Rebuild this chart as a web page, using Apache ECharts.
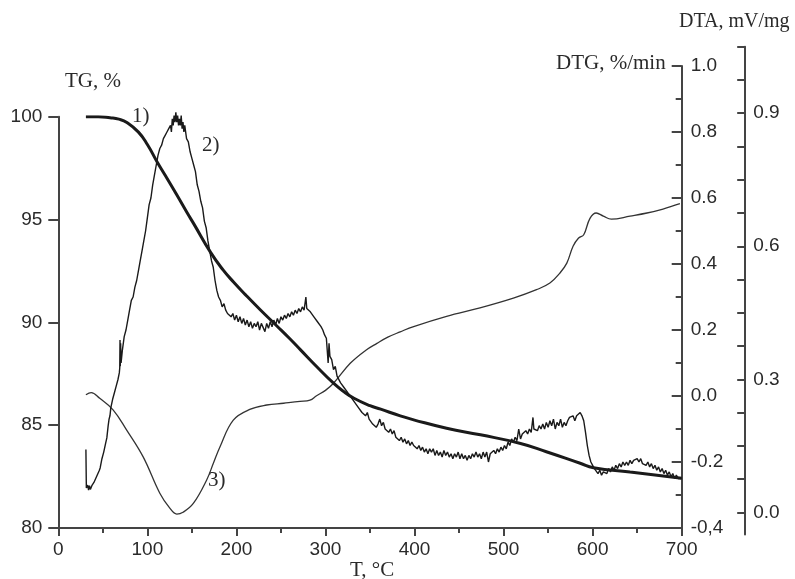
<!DOCTYPE html>
<html>
<head>
<meta charset="utf-8">
<script src="https://cdn.jsdelivr.net/npm/echarts@6/dist/echarts.min.js"></script>
<style>html,body{margin:0;padding:0;background:#fff}#c{width:795px;height:579px}</style>
</head>
<body>
<div id="c"></div>
<script>
// ---- data ----
var xTicks = [0, 100, 200, 300, 400, 500, 600, 700];
var tgTicks = [80, 85, 90, 95, 100];
var dtgTicks = [-0.4, -0.2, 0.0, 0.2, 0.4, 0.6, 0.8, 1.0];
var dtaLabelValues = [0, 0.3, 0.6, 0.9];
var dtaTickValues = [0, 0.075, 0.15, 0.225, 0.3, 0.375, 0.45, 0.525, 0.6, 0.675, 0.75, 0.825, 0.9, 0.975, 1.05];

// 1) TG, %
var tgT = [31, 45, 58, 68, 77, 90, 100, 111, 120, 133, 145, 152, 171, 185, 197, 210, 227, 246, 260, 272, 290, 309, 320, 332, 350, 362, 384, 399, 436, 474, 518, 548, 586, 601, 642, 670, 700];
var tgV = [100.0, 100.0, 99.95, 99.88, 99.72, 99.25, 98.65, 97.8, 97.15, 96.2, 95.3, 94.8, 93.4, 92.55, 91.95, 91.35, 90.6, 89.8, 89.2, 88.66, 87.85, 87.04, 86.65, 86.31, 85.95, 85.78, 85.45, 85.26, 84.85, 84.53, 84.12, 83.71, 83.15, 82.93, 82.72, 82.58, 82.42];

// 2) DTG, %/min
var dtgT = [31,31.5,33,34,35,36,38,40,42,44,46,47,49,51,53,54.5,56,57,58,59,61,63,65,67,68.5,69,69.3,69.6,70,70.5,72,74,76,78,80,82,84,86,88,90,92,94,96,98,100,102,104,106,108,110,112,114,116,118,120,122,124,126,127,128,129,130,131,132,133,134,135,136,137,138,139,140,141,142,144,146,148,150,152,154,156,158,160,162,164,166,168,170,172,174,176,178,180,182,184,186,188,190,192,194,196,198,200,202,204,206,208,210,212,214,216,218,220,222,224,226,228,230,232,234,236,238,240,242,244,246,248,250,252,254,256,258,260,262,264,266,268,270,272,274,276,278,279,281,283,285,287,289,291,293,295,297,299,301,302,303,304,305,307,309,311,313,315,317,319,321,323,325,327,329,331,333,335,337,339,341,343,345,347,349,351,353,355,357,359,361,363,365,367,369,371,373,375,377,379,381,383,385,387,389,391,393,395,397,399,401,403,405,407,409,411,413,415,417,419,421,423,425,427,429,431,433,435,437,439,441,443,445,447,449,451,453,455,457,459,461,463,465,467,469,471,473,475,477,479,481,483,485,487,489,491,493,495,497,499,501,503,505,507,509,511,513,515,517,519,521,523,525,527,529,531,533,534,536,538,540,542,544,546,548,550,552,554,556,558,560,562,564,566,568,570,572,574,576,578,580,582,584,586,588,590,592,594,596,598,600,602,604,606,608,610,612,614,616,618,620,622,624,626,628,630,632,634,636,638,640,642,644,646,648,650,652,654,656,658,660,662,664,666,668,670,672,674,676,678,680,682,684,686,688,690,692,694,696,698,700];
var dtgV = [-0.162,-0.279,-0.27,-0.285,-0.272,-0.283,-0.27,-0.262,-0.25,-0.238,-0.226,-0.218,-0.19,-0.17,-0.145,-0.127,-0.09,-0.07,-0.06,-0.035,-0.01,0.01,0.03,0.05,0.07,0.085,0.17,0.09,0.16,0.1,0.14,0.18,0.2,0.23,0.26,0.29,0.3,0.33,0.35,0.38,0.41,0.44,0.47,0.5,0.54,0.58,0.6,0.64,0.67,0.7,0.73,0.75,0.76,0.78,0.79,0.8,0.81,0.82,0.8,0.84,0.82,0.85,0.83,0.86,0.83,0.85,0.82,0.84,0.82,0.85,0.81,0.83,0.8,0.82,0.78,0.77,0.74,0.72,0.7,0.68,0.64,0.62,0.59,0.57,0.53,0.51,0.47,0.44,0.41,0.39,0.35,0.32,0.3,0.29,0.27,0.28,0.26,0.25,0.255,0.24,0.25,0.23,0.245,0.225,0.24,0.22,0.235,0.215,0.23,0.21,0.225,0.205,0.22,0.21,0.225,0.2,0.22,0.215,0.195,0.22,0.205,0.225,0.21,0.23,0.215,0.235,0.22,0.24,0.23,0.245,0.235,0.25,0.24,0.255,0.245,0.26,0.25,0.265,0.255,0.27,0.26,0.3,0.265,0.27,0.255,0.26,0.24,0.245,0.225,0.23,0.21,0.2,0.185,0.175,0.18,0.1,0.16,0.12,0.11,0.08,0.09,0.06,0.065,0.04,0.045,0.025,0.03,0.01,0.015,-0.005,0.0,-0.02,-0.015,-0.035,-0.03,-0.05,-0.045,-0.06,-0.05,-0.07,-0.065,-0.085,-0.08,-0.095,-0.085,-0.07,-0.09,-0.08,-0.1,-0.095,-0.11,-0.1,-0.115,-0.105,-0.125,-0.12,-0.135,-0.125,-0.14,-0.13,-0.145,-0.135,-0.15,-0.14,-0.15,-0.145,-0.16,-0.15,-0.165,-0.155,-0.17,-0.16,-0.175,-0.16,-0.17,-0.16,-0.18,-0.165,-0.18,-0.17,-0.185,-0.165,-0.18,-0.17,-0.185,-0.175,-0.19,-0.175,-0.185,-0.17,-0.19,-0.175,-0.19,-0.18,-0.195,-0.18,-0.19,-0.175,-0.185,-0.17,-0.185,-0.175,-0.19,-0.17,-0.185,-0.17,-0.2,-0.175,-0.18,-0.165,-0.175,-0.16,-0.17,-0.155,-0.165,-0.15,-0.16,-0.14,-0.15,-0.13,-0.14,-0.125,-0.135,-0.1,-0.13,-0.115,-0.12,-0.105,-0.115,-0.1,-0.11,-0.065,-0.1,-0.095,-0.105,-0.09,-0.1,-0.085,-0.1,-0.08,-0.095,-0.075,-0.09,-0.07,-0.1,-0.08,-0.09,-0.07,-0.095,-0.08,-0.09,-0.075,-0.065,-0.07,-0.06,-0.075,-0.06,-0.055,-0.05,-0.06,-0.075,-0.11,-0.15,-0.18,-0.2,-0.21,-0.22,-0.225,-0.235,-0.225,-0.24,-0.23,-0.225,-0.235,-0.22,-0.23,-0.215,-0.225,-0.21,-0.22,-0.205,-0.215,-0.2,-0.21,-0.2,-0.21,-0.195,-0.205,-0.195,-0.2,-0.19,-0.2,-0.19,-0.205,-0.2,-0.21,-0.2,-0.215,-0.205,-0.22,-0.21,-0.225,-0.215,-0.23,-0.22,-0.235,-0.225,-0.24,-0.23,-0.245,-0.235,-0.25,-0.24,-0.25,-0.245,-0.25];

// 3) DTA, mV/mg
var dtaT = [31, 37, 46.5, 61.5, 76.6, 95.3, 114, 125, 133, 140, 151.6, 166.6, 174, 181.6, 196.5, 215, 234, 253, 271.4, 282.6, 290, 300, 309, 327.8, 345, 357.8, 370, 383.9, 399, 436, 473.5, 511, 537, 552, 563, 571, 578, 584, 590, 597, 604, 612, 621, 642, 661, 679, 698];
var dtaV = [0.265, 0.27, 0.257, 0.231, 0.186, 0.125, 0.043, 0.01, -0.004, 0.0, 0.02, 0.073, 0.11, 0.148, 0.208, 0.232, 0.242, 0.246, 0.25, 0.253, 0.263, 0.275, 0.291, 0.336, 0.365, 0.381, 0.395, 0.407, 0.419, 0.442, 0.461, 0.483, 0.502, 0.517, 0.539, 0.562, 0.6, 0.618, 0.626, 0.663, 0.675, 0.668, 0.661, 0.668, 0.675, 0.684, 0.696];

function zip(a, b) { return a.map(function (t, i) { return [t, b[i]]; }); }

var labelFont = '"Liberation Sans", Arial, sans-serif';
var titleFont = '"Liberation Serif", "Times New Roman", serif';
var axisColor = '#444';
var textColor = '#2a2a2a';
var lineColor = '#1a1a1a';

var L = 58.3, R = 795 - 681.7;

var chart = echarts.init(document.getElementById('c'), null, { renderer: 'canvas' });
chart.setOption({
  animation: false,
  backgroundColor: '#fff',
  grid: [
    { left: L, right: R, top: 116.7, bottom: 51 },
    { left: L, right: R, top: 66, bottom: 51 },
    { left: L, right: R, top: 46.7, bottom: 44.5 }
  ],
  xAxis: [
    {
      gridIndex: 0, type: 'value', min: xTicks[0], max: xTicks[xTicks.length - 1], interval: 100,
      axisLine: { show: true, onZero: false, lineStyle: { color: axisColor, width: 2 } },
      axisTick: { show: true, inside: false, length: 8, lineStyle: { color: axisColor, width: 2 } },
      minorTick: { show: true, splitNumber: 2, length: 5, lineStyle: { color: axisColor, width: 2 } },
      axisLabel: { margin: 12, fontSize: 19, fontFamily: labelFont, color: textColor },
      splitLine: { show: false }
    },
    { gridIndex: 1, type: 'value', min: 0, max: 700, show: false },
    { gridIndex: 2, type: 'value', min: 0, max: 700, show: false }
  ],
  yAxis: [
    {
      gridIndex: 0, type: 'value', position: 'left', min: tgTicks[0], max: tgTicks[tgTicks.length - 1], interval: 5,
      axisLine: { show: true, onZero: false, lineStyle: { color: axisColor, width: 2 } },
      axisTick: { show: true, inside: false, length: 10, lineStyle: { color: axisColor, width: 2 } },
      axisLabel: { margin: 16, fontSize: 19, fontFamily: labelFont, color: textColor },
      splitLine: { show: false }
    },
    {
      gridIndex: 1, type: 'value', position: 'right', min: dtgTicks[0], max: dtgTicks[dtgTicks.length - 1], interval: 0.2,
      axisLine: { show: true, onZero: false, lineStyle: { color: axisColor, width: 2 } },
      axisTick: { show: true, inside: true, length: 10, lineStyle: { color: axisColor, width: 2 } },
      minorTick: { show: true, splitNumber: 2, length: 6, lineStyle: { color: axisColor, width: 2 } },
      axisLabel: {
        margin: 9, fontSize: 19, fontFamily: labelFont, color: textColor,
        formatter: function (v) { var s = v.toFixed(1); return Math.abs(v + 0.4) < 1e-9 ? s.replace('.', ',') : s; }
      },
      splitLine: { show: false }
    },
    {
      gridIndex: 2, type: 'value', position: 'right', offset: 63.5, min: -0.05, max: 1.05,
      axisLine: { show: true, onZero: false, lineStyle: { color: axisColor, width: 2 } },
      axisTick: { show: true, inside: true, length: 8, customValues: dtaTickValues, lineStyle: { color: axisColor, width: 2 } },
      axisLabel: {
        margin: 8, fontSize: 19, fontFamily: labelFont, color: textColor, customValues: dtaLabelValues,
        formatter: function (v) { return v.toFixed(1); }
      },
      splitLine: { show: false }
    }
  ],
  series: [
    { name: 'TG', type: 'line', xAxisIndex: 0, yAxisIndex: 0, data: zip(tgT, tgV), showSymbol: false,
      smooth: 0.5, lineStyle: { color: lineColor, width: 3 }, z: 5 },
    { name: 'DTG', type: 'line', xAxisIndex: 1, yAxisIndex: 1, data: zip(dtgT, dtgV), showSymbol: false,
      lineStyle: { color: lineColor, width: 1.4 }, z: 4 },
    { name: 'DTA', type: 'line', xAxisIndex: 2, yAxisIndex: 2, data: zip(dtaT, dtaV), showSymbol: false,
      smooth: 0.4, lineStyle: { color: '#333', width: 1.3 }, z: 3 }
  ],
  graphic: [
    { type: 'text', left: 65, top: 71, style: { text: 'TG, %', font: '21px ' + titleFont, fill: textColor } },
    { type: 'text', left: 556, top: 53, style: { text: 'DTG, %/min', font: '21px ' + titleFont, fill: textColor } },
    { type: 'text', left: 679, top: 12, style: { text: 'DTA, mV/mg', font: '20px ' + titleFont, fill: textColor } },
    { type: 'text', left: 350, top: 560, style: { text: 'T, °C', font: '21px ' + titleFont, fill: textColor } },
    { type: 'text', left: 132, top: 106, style: { text: '1)', font: '21px ' + titleFont, fill: textColor } },
    { type: 'text', left: 202, top: 135, style: { text: '2)', font: '21px ' + titleFont, fill: textColor } },
    { type: 'text', left: 208, top: 470, style: { text: '3)', font: '21px ' + titleFont, fill: textColor } }
  ]
});
</script>
</body>
</html>
